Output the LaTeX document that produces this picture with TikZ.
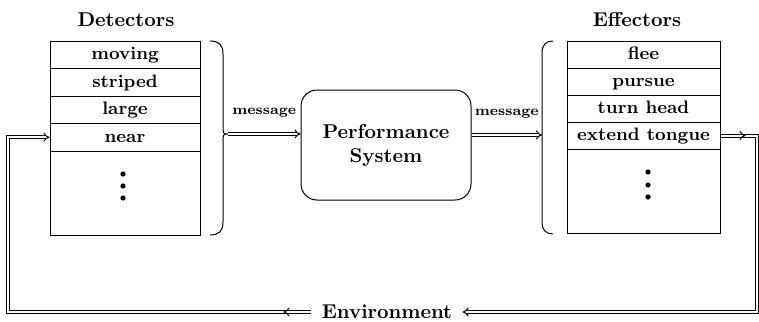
\documentclass[tikz,border=0pt]{standalone}
\usetikzlibrary{arrows.meta}

\begin{document}
\begin{tikzpicture}[x=0.5pt,y=-0.5pt,
    cell/.style={draw, line width=0.5pt, minimum width=75pt, minimum height=13.75pt, inner sep=0pt, text height=1.6ex, text depth=0.4ex, font=\small\bfseries},
    title/.style={font=\bfseries},
    dbl/.style={double, double distance=1pt, line width=0.5pt},
    tip/.style={-{Implies}},
    msg/.style={above=5pt, font=\scriptsize\bfseries}]
\useasboundingbox (0,0) rectangle (759,321);
% detectors
\node[title] (det) at (126,20){Detectors};
\node[cell] (det0) at (125,54.75){moving};
\node[cell] (det1) at (125,82.25){striped};
\node[cell] (det2) at (125,109.75){large};
\node[cell] (det3) at (125,137.25){near};
\node[cell, minimum height=42pt] (det4) at (125,193){};
\foreach \y in {174,186,198} \fill (123,\y) circle[radius=1.3pt];
\draw[line width=0.5pt] (210,41) .. controls (219,41) and (223,45) .. (223,54) -- (223,125)
    .. controls (223,134) .. (228,134) coordinate (dtip) .. controls (223,134) .. (223,143)
    -- (223,222) .. controls (223,231) and (219,235) .. (210,235);
% effectors
\node[title] (eff) at (637,20){Effectors};
\node[cell, minimum width=76.5pt, minimum height=13.5pt] (eff0) at (643.5,54.5){flee};
\node[cell, minimum width=76.5pt, minimum height=13.5pt] (eff1) at (643.5,81.5){pursue};
\node[cell, minimum width=76.5pt, minimum height=13.5pt] (eff2) at (643.5,108.5){turn head};
\node[cell, minimum width=76.5pt, minimum height=13.5pt] (eff3) at (643.5,135.5){extend tongue};
\node[cell, minimum width=76.5pt, minimum height=42pt] (eff4) at (643.5,191){};
\foreach \y in {172,185,197} \fill (648,\y) circle[radius=1.3pt];
\draw[line width=0.5pt] (553,41) .. controls (546,41) and (542,45) .. (542,53) -- (542,222)
    .. controls (542,230) and (546,234) .. (553,234);
\coordinate (etip) at (542,135);
% middle
\node[draw, line width=0.5pt, rounded corners=8pt, minimum width=85pt, minimum height=55pt, align=center, font=\bfseries] (perf) at (386,145){Performance\\System};
\node[font=\bfseries, inner xsep=5pt] (env) at (387,312){Environment};
\draw[dbl,tip] (dtip) -- node[msg]{message} (dtip -| perf.west);
\draw[dbl,tip] (perf.east |- etip) -- node[msg]{message} (etip);
\draw[dbl,tip] (eff3.east) -- (757,135.5) |- (env.east);
\draw[dbl,tip] (eff3.east) -- ++(25,0);
\draw[dbl,tip] (env.west) -- (8,312) |- (det3.west);
\draw[dbl,tip] (env.west) -- ++(-28,0);
\end{tikzpicture}
\end{document}
